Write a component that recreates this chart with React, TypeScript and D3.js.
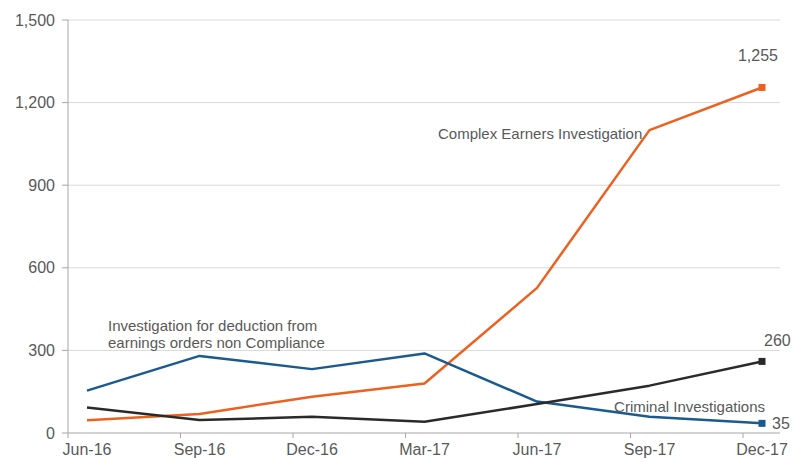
import * as d3 from "d3";

const periods = ["Jun-16", "Sep-16", "Dec-16", "Mar-17", "Jun-17", "Sep-17", "Dec-17"];
const complexEarners = [46, 69, 132, 180, 527, 1100, 1255];
const deductionOrders = [154, 280, 232, 289, 114, 59, 35];
const criminal = [93, 47, 59, 41, 105, 172, 260];
const yTicks = [0, 300, 600, 900, 1200, 1500];

const W = 792;
const H = 459;
const axisX = 68;
const plotRight = 780;
const grey = "#595959";
const font = "'Liberation Sans', Arial, sans-serif";

const series = [
    {name: "Complex Earners Investigation", values: complexEarners, color: "#ec6120"},
    {name: "Investigation for deduction from earnings orders non Compliance", values: deductionOrders, color: "#1b5a8e"},
    {name: "Criminal Investigations", values: criminal, color: "#2a2a2a"},
];

export default function App() {
    const x = d3.scalePoint<string>().domain(periods).range([87, 762]);
    const y = d3.scaleLinear().domain([0, 1500]).range([433, 20]);
    const tickOffset = 19;

    const line = d3.line<number>()
        .x((_, i) => x(periods[i]) as number)
        .y(d => y(d));

    const last = periods[periods.length - 1];
    const lx = x(last) as number;

    return <svg width={W} height={H} viewBox={`0 0 ${W} ${H}`}
                style={{position: "absolute", left: 0, top: 0, background: "#fff"}}
                fontFamily={font}>
        {yTicks.filter(t => t > 0).map(t =>
            <line key={t} x1={axisX} x2={plotRight} y1={y(t)} y2={y(t)} stroke="#d9d9d9" strokeWidth={1}/>
        )}
        <line x1={axisX} x2={axisX} y1={y(1500)} y2={y(0)} stroke="#a6a6a6"/>
        <line x1={axisX} x2={plotRight} y1={y(0)} y2={y(0)} stroke="#a6a6a6"/>
        {yTicks.map(t => <g key={t}>
            <line x1={axisX - 6} x2={axisX} y1={y(t)} y2={y(t)} stroke="#a6a6a6"/>
            <text x={55} y={y(t)} dy="0.35em" textAnchor="end" fontSize={16} fill={grey}>
                {d3.format(",")(t)}
            </text>
        </g>)}
        {periods.map(p => <g key={p}>
            <line x1={(x(p) as number) - tickOffset} x2={(x(p) as number) - tickOffset}
                  y1={y(0)} y2={y(0) + 5} stroke="#a6a6a6"/>
            <text x={x(p)} y={y(0) + 22} textAnchor="middle" fontSize={16} fill={grey}>{p}</text>
        </g>)}
        {series.map(s => <g key={s.name}>
            <path d={line(s.values) ?? ""} fill="none" stroke={s.color} strokeWidth={2.5}
                  strokeLinejoin="round"/>
        </g>)}
        {series.map((s, i) => {
            const v = s.values[s.values.length - 1];
            return <rect key={i} x={lx - 3.5} y={y(v) - 3.5} width={7} height={7} fill={s.color}/>;
        })}
        <text x={lx - 4} y={y(complexEarners[6]) - 26} textAnchor="middle" fontSize={16} fill={grey}>
            {d3.format(",")(complexEarners[6])}
        </text>
        <text x={lx + 2} y={y(criminal[6]) - 15} fontSize={16} fill={grey}>{criminal[6]}</text>
        <text x={lx + 10} y={y(deductionOrders[6])} dy="0.35em" fontSize={16} fill={grey}>{deductionOrders[6]}</text>
        <text x={438} y={y(complexEarners[5]) + 4} dy="0.35em" fontSize={15} fill={grey}>{series[0].name}</text>
        <text x={765} y={407} dy="0.35em" textAnchor="end" fontSize={15} fill={grey}>{series[2].name}</text>
        <text fontSize={15} fill={grey}>
            <tspan x={108} y={326} dy="0.35em">Investigation for deduction from</tspan>
            <tspan x={108} y={343} dy="0.35em">earnings orders non Compliance</tspan>
        </text>
    </svg>;
}
